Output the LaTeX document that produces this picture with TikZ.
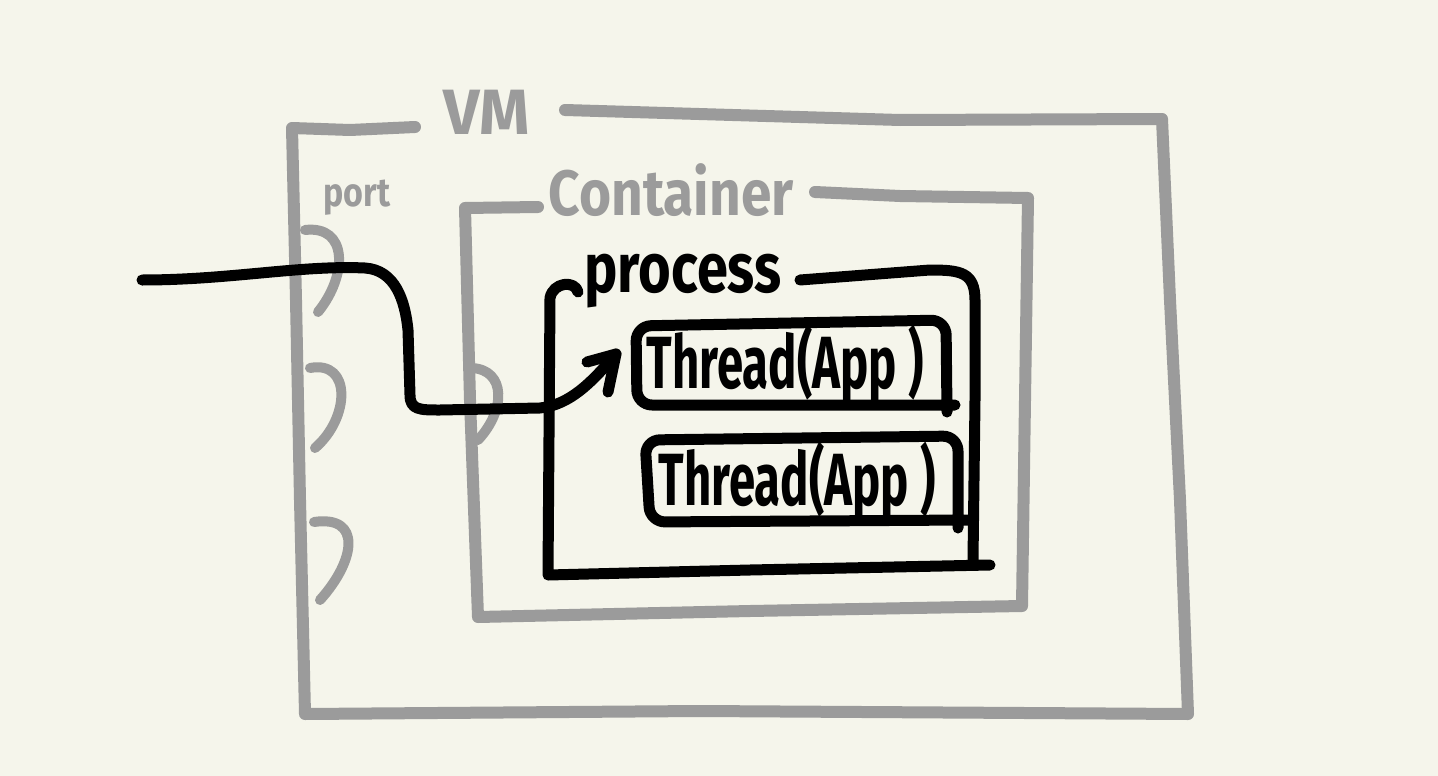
\documentclass[tikz,border=0pt]{standalone}
\usepackage{fontspec}
\setmainfont{Fira Sans}
\usetikzlibrary{arrows.meta}
\definecolor{bg}{HTML}{F5F5EB}
\definecolor{gline}{HTML}{9B9B9B}
\definecolor{ink}{HTML}{000000}
\tikzset{
  gbox/.style={draw=gline, line width=12pt, line cap=round, line join=round},
  gbump/.style={draw=gline, line width=10pt, line cap=round, line join=round},
  bline/.style={draw=ink, line width=11pt, line cap=round, line join=round},
  glabel/.style={text=gline, inner sep=0pt, font=\bfseries},
  blabel/.style={text=ink, inner sep=0pt, font=\bfseries},
}
\begin{document}
\begin{tikzpicture}[x=1pt,y=-1pt]
\fill[bg] (0,0) rectangle (1438,776);
\useasboundingbox (0,0) rectangle (1438,776);

% labels
\node[glabel] (vm) at (487,112) {\fontsize{64}{64}\selectfont VM};
\node[glabel] (port) at (357,198) {\fontsize{40}{40}\selectfont\scalebox{0.85}[1]{port}};
\node[glabel] (cont) at (671,190) {\fontsize{64}{64}\selectfont\scalebox{0.86}[1]{Container}};
\node[blabel] (proc) at (683,281) {\fontsize{70}{70}\selectfont\scalebox{0.8}[1]{process}};
\node[blabel] (t1) at (785,365) {\fontsize{74}{74}\selectfont\scalebox{0.64}[1]{Thread(App )}};
\node[blabel] (t2) at (797,482) {\fontsize{74}{74}\selectfont\scalebox{0.64}[1]{Thread(App )}};

% VM box
\draw[gbox] (415,127) -- (350,130) -- (292,128) -- (296,300) -- (300,500) -- (305,714)
  -- (700,711) -- (1188,714) -- (1180,500) -- (1170,300) -- (1162,119) -- (900,120) -- (565,110);
% ports on VM
\draw[gbump] (305,230) .. controls (348,225) and (348,275) .. (318,312);
\draw[gbump] (310,368) .. controls (352,360) and (350,418) .. (315,448);
\draw[gbump] (314,522) .. controls (362,515) and (356,560) .. (320,600);

% Container box
\draw[gbox] (538,207) -- (465,208) -- (470,400) -- (478,617) -- (750,611) -- (1022,606)
  -- (1025,400) -- (1028,198) -- (900,196) -- (815,192);
% port on container
\draw[gbump] (472,368) .. controls (506,370) and (506,410) .. (478,440);

% Process box
\draw[bline] (578,292) .. controls (575,280) and (553,282) .. (550,298) -- (548,575)
  -- (750,570) -- (990,565);
\draw[bline] (973,560) -- (975,400) -- (975,300) .. controls (975,272) and (960,270) .. (930,270) -- (800,280);

% Threads
\draw[bline, rounded corners=15pt] (947,412) -- (946,320) -- (636,326) -- (637,405) -- (955,405);
\draw[bline, rounded corners=15pt] (958,528) -- (958,436) -- (645,440) -- (650,522) -- (968,520);

% Arrow
\coordinate (in) at (142,280);
\coordinate (tip) at (616,354);
\draw[bline] (in) .. controls (230,280) and (300,265) .. (365,268)
  .. controls (395,270) and (405,300) .. (408,330) -- (410,395)
  .. controls (410,410) and (420,410) .. (440,410) -- (540,408)
  .. controls (570,405) and (592,382) .. (tip);
\draw[bline] (587,362) -- (tip) -- (608,392);
\end{tikzpicture}
\end{document}
